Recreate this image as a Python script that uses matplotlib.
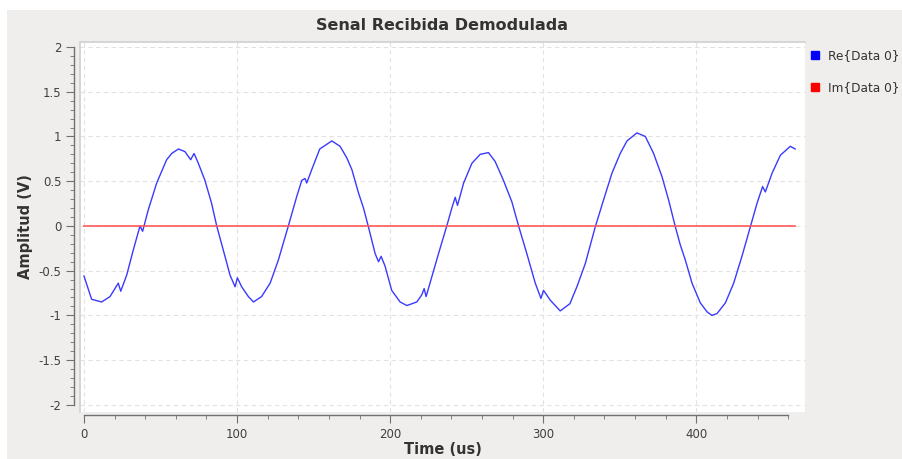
import matplotlib
matplotlib.use("Agg")
import matplotlib.pyplot as plt
from matplotlib.patches import Rectangle
from matplotlib.lines import Line2D
from matplotlib.ticker import MultipleLocator
import numpy as np

# demodulated signal (time in us, amplitude in V)
time_us = [0, 5, 11.5, 17, 22.4, 24, 27.9, 32.2, 36.6, 38.3, 42, 47.5, 54, 57.3,
           61.7, 66, 69.7, 71.9, 74.7, 79, 83.4, 86.7, 91, 95.4, 98.7, 100.2, 103,
           107.4, 110.7, 116, 121.6, 127, 133.5, 139, 142.3, 144.4, 145.5, 148.8,
           154, 161.9, 167.3, 171.7, 175, 179.3, 182.6, 185.8, 190.2, 192.4, 194.1,
           196.7, 201, 206.5, 210.9, 217.4, 220.7, 222.2, 223.5, 227.2, 231.6, 237,
           240.3, 242.5, 244, 248, 253.4, 258.8, 264.2, 268.6, 274, 279.5, 283.9,
           289.3, 294.8, 298.5, 300.2, 304.6, 311.1, 317.4, 322, 327.5, 334, 339.4,
           344.9, 350.3, 354.7, 361.2, 366.7, 372.1, 377.6, 381.9, 386.3, 389.5,
           392.8, 397.2, 402.6, 407, 410.2, 413.5, 419, 424.4, 429.8, 435.3, 439.6,
           443.3, 445.1, 449.5, 454.9, 461.4, 464.6]
re_data = [-0.56, -0.82, -0.85, -0.79, -0.64, -0.73, -0.55, -0.27, 0.0, -0.06, 0.18,
           0.48, 0.74, 0.81, 0.86, 0.83, 0.74, 0.81, 0.70, 0.51, 0.25, 0.0, -0.27,
           -0.55, -0.68, -0.58, -0.68, -0.79, -0.85, -0.79, -0.64, -0.38, 0.0, 0.33,
           0.51, 0.53, 0.48, 0.63, 0.86, 0.95, 0.89, 0.76, 0.63, 0.37, 0.20, -0.01,
           -0.31, -0.40, -0.34, -0.45, -0.72, -0.85, -0.89, -0.85, -0.77, -0.70,
           -0.79, -0.57, -0.31, 0.0, 0.20, 0.32, 0.23, 0.48, 0.70, 0.80, 0.82, 0.72,
           0.51, 0.27, 0.0, -0.31, -0.64, -0.81, -0.72, -0.83, -0.95, -0.87, -0.68,
           -0.42, -0.01, 0.29, 0.59, 0.81, 0.95, 1.04, 1.00, 0.81, 0.55, 0.29, -0.01,
           -0.21, -0.38, -0.64, -0.86, -0.96, -1.00, -0.98, -0.86, -0.64, -0.34,
           -0.01, 0.25, 0.44, 0.38, 0.59, 0.79, 0.89, 0.86]
im_data = [0.0 for _ in time_us]
labels = ["Re{Data 0}", "Im{Data 0}"]

fig = plt.figure(figsize=(9.02, 4.59), dpi=100)
fig.patch.set_facecolor("white")
fig.patches.append(Rectangle((7 / 902, 0), 1, 1 - 10 / 459, transform=fig.transFigure,
                             facecolor="#efeeec", edgecolor="none", zorder=-10))

ax = fig.add_axes([80 / 902, 47 / 459, 725 / 902, 370 / 459])
ax.set_facecolor("white")

ax.plot(time_us, re_data, color="#3a3aff", lw=1.0)
ax.plot(time_us, im_data, color="#ff5555", lw=1.3, alpha=0.9)

ax.set_xlim(-2.6, 471)
ax.set_ylim(-2.08, 2.056)

ax.xaxis.set_major_locator(MultipleLocator(100))
ax.xaxis.set_minor_locator(MultipleLocator(20))
ax.yaxis.set_minor_locator(MultipleLocator(0.1))
ax.set_yticks([2, 1.5, 1, 0.5, 0, -0.5, -1, -1.5, -2])
ax.set_yticklabels(["2", "1.5", "1", "0.5", "0", "-0.5", "-1", "-1.5", "-2"])

ax.grid(True, which="major", color="#e2e2e2", ls=(0, (4, 3)), lw=0.8)

# qwt-like detached axes
for s in ["top", "right"]:
    ax.spines[s].set_visible(False)
ax.spines["left"].set_position(("outward", 4))
ax.spines["bottom"].set_position(("outward", 2))
ax.spines["left"].set_bounds(-2, 2)
ax.spines["bottom"].set_bounds(0, 460)
for s in ["left", "bottom"]:
    ax.spines[s].set_color("#707070")
    ax.spines[s].set_linewidth(1.0)
ax.tick_params(which="major", length=6, color="#707070", labelsize=8.5,
               labelcolor="#404040")
ax.tick_params(which="minor", length=3, color="#707070")

# thin frame on left/top of the canvas
ax.plot([0, 0, 1], [0, 1, 1], transform=ax.transAxes, color="#d0d0d0", lw=1.2,
        clip_on=False)

ax.set_title("Senal Recibida Demodulada", fontsize=11.5, fontweight="bold",
             color="#333333", pad=9)
ax.set_xlabel("Time (us)", fontsize=10.5, fontweight="bold", color="#333333",
              labelpad=1)
ax.set_ylabel("Amplitud (V)", fontsize=10.5, fontweight="bold", color="#333333",
              labelpad=4)

handles = [Line2D([], [], ls="none", marker="s", markersize=6, color=c)
           for c in ["#0000ff", "#ff0000"]]
fig.legend(handles, labels, loc="upper left",
           bbox_to_anchor=(810 / 902, 1 - 49 / 459), frameon=False,
           borderpad=0, borderaxespad=0, handlelength=0.8, handletextpad=0.7,
           labelspacing=1.55, fontsize=8.7, labelcolor="#333333", numpoints=1)

fig.savefig("out.png", dpi=100, facecolor=fig.get_facecolor())
